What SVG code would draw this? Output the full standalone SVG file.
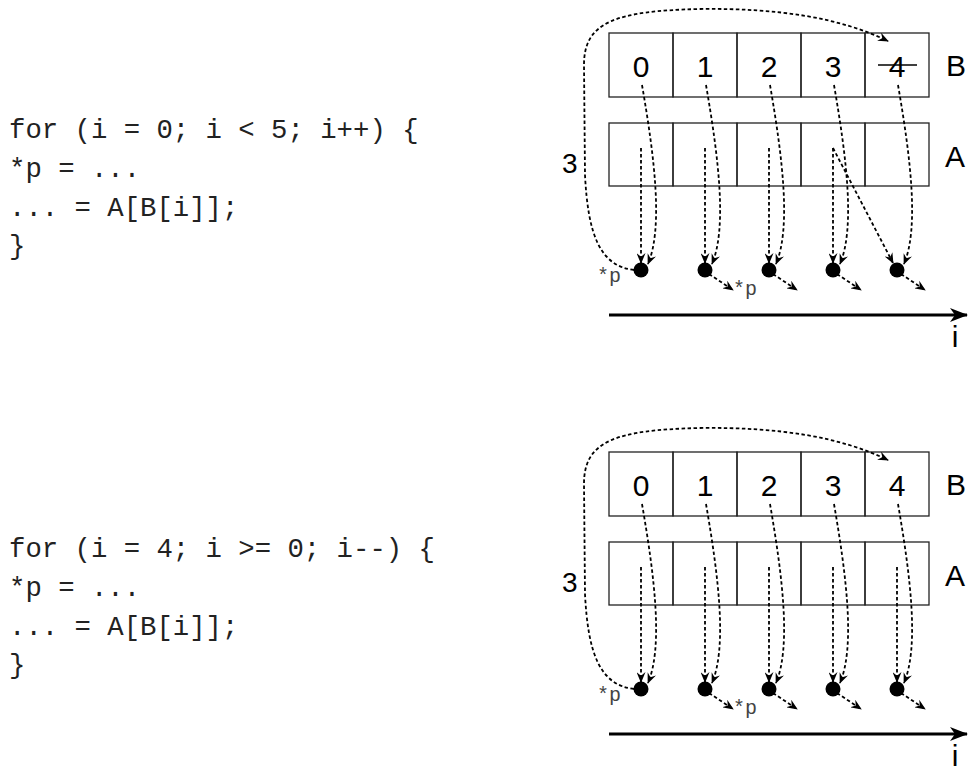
<svg xmlns="http://www.w3.org/2000/svg" width="968" height="767" viewBox="0 0 968 767">
<style>
.code{font-family:"Liberation Mono","Courier New",monospace;font-size:27.3px;fill:#222}
.lbl{font-family:"Liberation Sans",Arial,sans-serif;font-size:30px;fill:#000}
.cell{fill:none;stroke:#222;stroke-width:1.3}
.dash{fill:none;stroke:#000;stroke-width:1.8;stroke-dasharray:3.5 2.5;marker-end:url(#ah)}
.arc{fill:none;stroke:#000;stroke-width:1.8;stroke-dasharray:3.5 2.5}
.dot{fill:#000}
.ptr{font-family:"Liberation Mono","Courier New",monospace;font-size:20px;fill:#444}
.axis{stroke:#000;stroke-width:3;fill:none;marker-end:url(#ax)}
</style>
<defs>
<marker id="ah" viewBox="0 0 12 10" refX="11" refY="5" markerWidth="11" markerHeight="9" markerUnits="userSpaceOnUse" orient="auto">
<path d="M0,0 L12,5 L0,10 L4,5 Z" fill="#000" stroke="none"/>
</marker>
<marker id="ax" viewBox="0 0 18 14" refX="17" refY="7" markerWidth="18" markerHeight="14" markerUnits="userSpaceOnUse" orient="auto">
<path d="M0,0 L18,7 L0,14 L5,7 Z" fill="#000" stroke="none"/>
</marker>
</defs>

<!-- Block 1 -->
<g id="block1">
<g id="code1">
<text class="code" x="9" y="138">for (i = 0; i &lt; 5; i++) {</text>
<text class="code" x="9" y="177">*p = ...</text>
<text class="code" x="9" y="216">... = A[B[i]];</text>
<text class="code" x="9" y="254">}</text>
</g>
<g id="arrayB1">
<rect class="cell" x="609" y="33" width="64" height="64"/>
<rect class="cell" x="673" y="33" width="64" height="64"/>
<rect class="cell" x="737" y="33" width="64" height="64"/>
<rect class="cell" x="801" y="33" width="64" height="64"/>
<rect class="cell" x="865" y="33" width="64" height="64"/>
<text class="lbl" x="641" y="77" text-anchor="middle">0</text>
<text class="lbl" x="705" y="77" text-anchor="middle">1</text>
<text class="lbl" x="769" y="77" text-anchor="middle">2</text>
<text class="lbl" x="833" y="77" text-anchor="middle">3</text>
<text class="lbl" x="897" y="77" text-anchor="middle">4</text>
<line x1="878" y1="65" x2="917" y2="65" stroke="#000" stroke-width="1.4"/>
<text class="lbl" x="946" y="76">B</text>
</g>
<g id="arrayA1">
<rect class="cell" x="609" y="123" width="64" height="63"/>
<rect class="cell" x="673" y="123" width="64" height="63"/>
<rect class="cell" x="737" y="123" width="64" height="63"/>
<rect class="cell" x="801" y="123" width="64" height="63"/>
<rect class="cell" x="865" y="123" width="64" height="63"/>
<text class="lbl" x="945" y="167">A</text>
</g>
<g id="dots1">
<circle class="dot" cx="641" cy="270" r="7.5"/>
<circle class="dot" cx="705" cy="270" r="7.5"/>
<circle class="dot" cx="769" cy="270" r="7.5"/>
<circle class="dot" cx="833" cy="270" r="7.5"/>
<circle class="dot" cx="897" cy="270" r="7.5"/>
</g>
<g id="labels1">
<text class="lbl" x="562" y="173" style="font-size:28px">3</text>
<text class="ptr" x="597" y="282">*p</text>
<text class="ptr" x="733" y="295">*p</text>
</g>
<g id="connectors1">
<path class="arc" d="M634,270 C600,266 588,235 585,175 L584,65 C584,22 615,11 700,9 C780,8 840,18 888,41" marker-end="url(#ah)"/>
<path class="dash" d="M641,148 L641,263"/>
<path class="dash" d="M705,148 L705,263"/>
<path class="dash" d="M769,148 L769,263"/>
<path class="dash" d="M833,148 L833,263"/>
<path class="dash" d="M833,148 L893,263"/>
<path class="dash" d="M642,85 C655,160 663,228 648,264"/>
<path class="dash" d="M706,85 C719,160 727,228 712,264"/>
<path class="dash" d="M770,85 C783,160 791,228 776,264"/>
<path class="dash" d="M834,85 C847,160 855,228 840,264"/>
<path class="dash" d="M898,85 C911,160 919,228 904,264"/>
<path class="dash" d="M709,274 L733,290"/>
<path class="dash" d="M773,274 L797,290"/>
<path class="dash" d="M837,274 L861,290"/>
<path class="dash" d="M901,274 L925,290"/>
<line class="axis" x1="609" y1="315" x2="967" y2="315"/>
</g>
<text class="lbl" x="955" y="347" text-anchor="middle">i</text>
</g>

<!-- Block 2 -->
<g id="block2" transform="translate(0,419)">
<g id="code2">
<text class="code" x="9" y="138">for (i = 4; i &gt;= 0; i--) {</text>
<text class="code" x="9" y="177">*p = ...</text>
<text class="code" x="9" y="216">... = A[B[i]];</text>
<text class="code" x="9" y="254">}</text>
</g>
<g id="arrayB2">
<rect class="cell" x="609" y="33" width="64" height="64"/>
<rect class="cell" x="673" y="33" width="64" height="64"/>
<rect class="cell" x="737" y="33" width="64" height="64"/>
<rect class="cell" x="801" y="33" width="64" height="64"/>
<rect class="cell" x="865" y="33" width="64" height="64"/>
<text class="lbl" x="641" y="77" text-anchor="middle">0</text>
<text class="lbl" x="705" y="77" text-anchor="middle">1</text>
<text class="lbl" x="769" y="77" text-anchor="middle">2</text>
<text class="lbl" x="833" y="77" text-anchor="middle">3</text>
<text class="lbl" x="897" y="77" text-anchor="middle">4</text>
<text class="lbl" x="946" y="76">B</text>
</g>
<g id="arrayA2">
<rect class="cell" x="609" y="123" width="64" height="63"/>
<rect class="cell" x="673" y="123" width="64" height="63"/>
<rect class="cell" x="737" y="123" width="64" height="63"/>
<rect class="cell" x="801" y="123" width="64" height="63"/>
<rect class="cell" x="865" y="123" width="64" height="63"/>
<text class="lbl" x="945" y="167">A</text>
</g>
<g id="dots2">
<circle class="dot" cx="641" cy="270" r="7.5"/>
<circle class="dot" cx="705" cy="270" r="7.5"/>
<circle class="dot" cx="769" cy="270" r="7.5"/>
<circle class="dot" cx="833" cy="270" r="7.5"/>
<circle class="dot" cx="897" cy="270" r="7.5"/>
</g>
<g id="labels2">
<text class="lbl" x="562" y="173" style="font-size:28px">3</text>
<text class="ptr" x="597" y="282">*p</text>
<text class="ptr" x="733" y="295">*p</text>
</g>
<g id="connectors2">
<path class="arc" d="M634,270 C600,266 588,235 585,175 L584,65 C584,22 615,11 700,9 C780,8 840,18 888,41" marker-end="url(#ah)"/>
<path class="dash" d="M641,148 L641,263"/>
<path class="dash" d="M705,148 L705,263"/>
<path class="dash" d="M769,148 L769,263"/>
<path class="dash" d="M833,148 L833,263"/>
<path class="dash" d="M897,148 L897,263"/>
<path class="dash" d="M642,85 C655,160 663,228 648,264"/>
<path class="dash" d="M706,85 C719,160 727,228 712,264"/>
<path class="dash" d="M770,85 C783,160 791,228 776,264"/>
<path class="dash" d="M834,85 C847,160 855,228 840,264"/>
<path class="dash" d="M898,85 C911,160 919,228 904,264"/>
<path class="dash" d="M709,274 L733,290"/>
<path class="dash" d="M773,274 L797,290"/>
<path class="dash" d="M837,274 L861,290"/>
<path class="dash" d="M901,274 L925,290"/>
<line class="axis" x1="609" y1="315" x2="967" y2="315"/>
</g>
<text class="lbl" x="955" y="347" text-anchor="middle">i</text>
</g>
</svg>
